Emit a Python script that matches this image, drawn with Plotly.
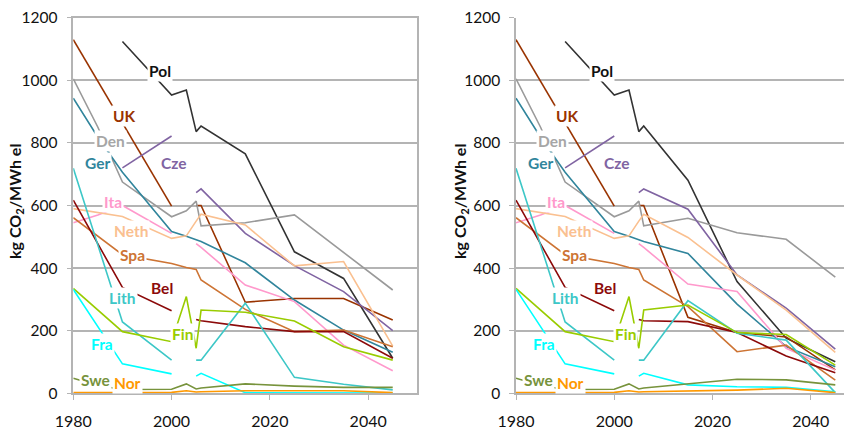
import plotly.graph_objects as go

# ---------------- data ----------------
HIST_YEARS = [1980, 1985, 1990, 2000, 2003, 2005, 2006]
PROJ_YEARS = [2015, 2025, 2035, 2045]

COUNTRIES = ["Pol", "UK", "Den", "Ger", "Cze", "Ita", "Neth", "Spa",
             "Bel", "Lith", "Fin", "Fra", "Swe", "Nor"]

# historical values (kg CO2 / MWh el), None = no data
pol_hist  = [None, None, 1124, 953, 969, 836, 854]
uk_hist   = [1130, 997, 864, 598, None, 600, 600]
den_hist  = [1005, 850, 675, 564, 583, 614, 535]
ger_hist  = [943, 818, 706, 517, 502, 491, 485]
cze_hist  = [None, None, 720, 822, None, 641, 653]
ita_hist  = [545, 570, 600, 511, None, 478, 466]
neth_hist = [590, 578, 565, 495, 503, 550, 572]
spa_hist  = [561, 502, 443, 415, 402, 396, 362]
bel_hist  = [617, 478, 338, 264, None, 236, 232]
lith_hist = [719, 473, 228, 106, None, 106, 106]
fin_hist  = [335, 266, 197, 165, 309, 144, 266]
fra_hist  = [332, 213, 94, 62, None, 55, 64]
swe_hist  = [48, 25, 12, 13, 30, 14, 17]
nor_hist  = [2, 2, 3, 3, 8, 4, 5]

# projections, left scenario
pol_a  = [765, 452, 367, 112]
uk_a   = [291, 303, 303, 234]
den_a  = [545, 570, 451, 330]
ger_a  = [417, 298, 202, 131]
cze_a  = [511, 408, 325, 200]
ita_a  = [346, 293, 154, 72]
neth_a = [538, 407, 421, 151]
spa_a  = [268, 197, 202, 149]
bel_a  = [213, 197, 197, 112]
lith_a = [288, 51, 29, 11]
fin_a  = [259, 231, 149, 106]
fra_a  = [2, 1, 1, 1]
swe_a  = [30, 23, 19, 19]
nor_a  = [8, 8, 8, 2]

# projections, right scenario
pol_b  = [681, 357, 176, 101]
uk_b   = [243, 194, 180, 75]
den_b  = [559, 513, 492, 371]
ger_b  = [447, 285, 149, 85]
cze_b  = [588, 378, 272, 141]
ita_b  = [349, 325, 144, 74]
neth_b = [498, 378, 266, 131]
spa_b  = [277, 133, 154, 42]
bel_b  = [229, 194, 119, 66]
lith_b = [296, 192, 170, 2]
fin_b  = [282, 194, 188, 90]
fra_b  = [27, 21, 19, 5]
swe_b  = [30, 45, 43, 27]
nor_b  = [8, 10, 16, 2]

# label anchor positions (year, value)
label_x = [1997.6, 1990.5, 1987.5, 1985.0, 2000.5, 1988.1, 1991.8, 1992.0,
           1998.1, 1990.0, 2002.2, 1985.8, 1984.6, 1991.1]
label_y = [1030, 885, 806, 736, 736, 612, 519, 442, 338, 306, 189, 158, 43, 33]

Y_TICKS = [0, 200, 400, 600, 800, 1000, 1200]
X_TICKS = [1980, 2000, 2020, 2040]

hist = [pol_hist, uk_hist, den_hist, ger_hist, cze_hist, ita_hist, neth_hist,
        spa_hist, bel_hist, lith_hist, fin_hist, fra_hist, swe_hist, nor_hist]
proj_a = [pol_a, uk_a, den_a, ger_a, cze_a, ita_a, neth_a, spa_a, bel_a,
          lith_a, fin_a, fra_a, swe_a, nor_a]
proj_b = [pol_b, uk_b, den_b, ger_b, cze_b, ita_b, neth_b, spa_b, bel_b,
          lith_b, fin_b, fra_b, swe_b, nor_b]

# ---------------- styles ----------------
line_colors = {"Pol": "#333333", "UK": "#993300", "Den": "#9A9A9A",
               "Ger": "#31859C", "Cze": "#8064A2", "Ita": "#FF99CC",
               "Neth": "#FAC090", "Spa": "#CD7434", "Bel": "#8C0A0A",
               "Lith": "#3DC7C7", "Fin": "#99CC00", "Fra": "#00FFFF",
               "Swe": "#77933C", "Nor": "#FF9900"}
text_colors = dict(line_colors)
text_colors["Pol"] = "#111111"
text_colors["Den"] = "#A6A6A6"

FONT = "Lato, 'Liberation Sans', sans-serif"
OFF = 8                       # default page margin of the html body
W, H = 852 - OFF, 427 - OFF   # figure size in page pixels

fig = go.Figure()
years = HIST_YEARS + PROJ_YEARS
for panel, proj, xa, ya in [(1, proj_a, "x", "y"), (2, proj_b, "x2", "y2")]:
    for name, h, p in zip(COUNTRIES, hist, proj):
        fig.add_trace(go.Scatter(
            x=years, y=h + p, mode="lines", name=name,
            line=dict(color=line_colors[name], width=1.6),
            connectgaps=False, showlegend=False, hoverinfo="skip",
            xaxis=xa, yaxis=ya))
    for name, lx, ly in zip(COUNTRIES, label_x, label_y):
        fig.add_annotation(
            x=lx, y=ly, xref=xa, yref=ya, text="<b>%s</b>" % name,
            showarrow=False, bgcolor="white", borderpad=1,
            font=dict(family=FONT, size=15.5, color=text_colors[name]))

def px_x(p):
    return (p - OFF) / W

def px_y(p):
    return (H - (p - OFF)) / H

grid = "#B4B4B4"
common_x = dict(tickvals=X_TICKS, showgrid=False, ticks="outside", ticklen=5,
                tickcolor=grid, showline=True, linecolor=grid, linewidth=1.5,
                tickfont=dict(family=FONT, size=16, color="#111111"),
                ticklabelstandoff=8, ticklabeloverflow="allow",
                zeroline=False, fixedrange=True, automargin=False)
common_y = dict(range=[0, 1200], tickvals=Y_TICKS, showgrid=True,
                gridcolor=grid, gridwidth=1.5, ticks="outside", ticklen=5,
                tickcolor=grid, showline=True, linecolor=grid, linewidth=1.5,
                tickfont=dict(family=FONT, size=15.5, color="#111111"),
                ticklabelstandoff=6, ticklabeloverflow="allow",
                zeroline=False, fixedrange=True, automargin=False)

fig.update_layout(
    width=W, height=H, margin=dict(l=0, r=0, t=0, b=0, autoexpand=False),
    paper_bgcolor="white", plot_bgcolor="white",
    xaxis=dict(domain=[px_x(73.3), px_x(417.3)], range=[1980, 2050],
               mirror=True, anchor="y", **common_x),
    yaxis=dict(domain=[px_y(393.3), px_y(17.7)], anchor="x", mirror=True,
               **common_y),
    xaxis2=dict(domain=[px_x(516), 1.0], range=[1980, 2048.4],
                anchor="y2", **common_x),
    yaxis2=dict(domain=[px_y(393.3), px_y(17.7)], anchor="x2", **common_y),
)

for xp in [16, 461]:
    fig.add_annotation(
        x=px_x(xp), y=px_y(202), xref="paper", yref="paper",
        xanchor="center", yanchor="middle",
        text="<b>kg CO<sub>2</sub>/MWh el</b>", textangle=-90,
        showarrow=False, font=dict(family=FONT, size=16, color="#111111"))

fig.write_html("out.html")
